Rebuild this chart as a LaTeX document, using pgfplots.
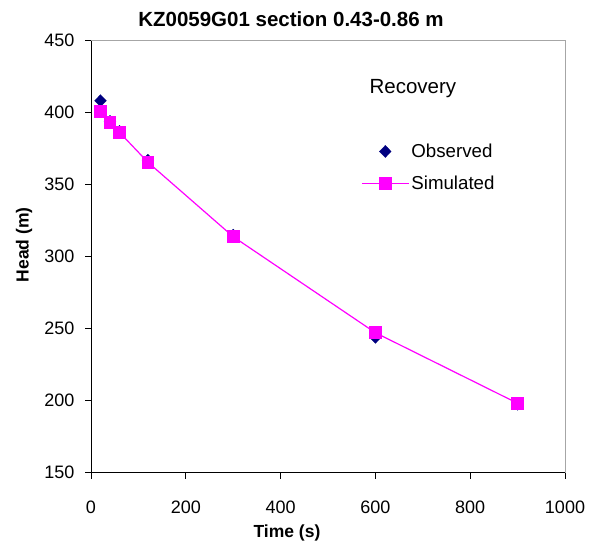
\documentclass[border=0pt]{standalone}
\usepackage{pgfplots}
\pgfplotsset{compat=1.18}
\usepackage{fontspec}
\setmainfont{Liberation Sans}
\definecolor{obs}{RGB}{0,0,128}
\definecolor{sim}{RGB}{255,0,255}
\begin{document}
\begin{tikzpicture}[x=1pt,y=1pt]
\useasboundingbox (-91,-73.3) rectangle (505,472.7);
\begin{axis}[
  at={(0,0)}, anchor=origin,
  scale only axis, width=474pt, height=432pt,
  xmin=0, xmax=1000, ymin=150, ymax=450,
  xtick={0,200,...,1000}, ytick={150,200,...,450},
  axis x line*=bottom, axis y line*=left,
  axis line style={black, line width=0.8pt},
  tick align=outside, major tick length=6pt,
  tick style={black, line width=0.8pt},
  x axis line style={-}, y axis line style={-},
  /pgf/number format/assume math mode=true,
  /pgf/number format/1000 sep={},
  ticklabel style={font=\fontsize{18}{21}\selectfont},
  xticklabel style={yshift=-19pt},
  yticklabel style={xshift=-7pt},
  clip=false,
  legend image code/.code={\draw[mark repeat=2,mark phase=2,#1] plot coordinates {(0pt,0pt) (23.5pt,0pt) (47pt,0pt)};},
  legend style={draw=none, fill=none, at={(0.5696,0.7065)}, anchor=west, inner sep=0pt,
    font=\fontsize{18.7}{22}\selectfont, row sep=13pt,
    /tikz/every even column/.append style={column sep=5pt}},
  legend cell align=left,
]
\draw[gray!70, line width=0.8pt] (rel axis cs:0,1) -- (rel axis cs:1,1) -- (rel axis cs:1,0);
\addplot[only marks, mark=diamond*, mark size=6pt, color=obs, mark options={xscale=1.3}] coordinates {
(20,408.3) (40,394) (60,387) (120,367) (300,315) (600,244) (900,197.5)};
\addlegendentry{Observed}
\addplot[sim, line width=1.2pt, mark=square*, mark size=5.7pt, mark options={solid}] coordinates {
(20,400.7) (40,393.1) (60,386.4) (120,365.6) (300,313.9) (600,247.2) (900,198.2)};
\addlegendentry{Simulated}
\node[font=\fontsize{20.5}{24}\selectfont] at (axis cs:679,417) {Recovery};
\end{axis}
\node[font=\bfseries\fontsize{20.5}{24}\selectfont] at (200,454) {KZ0059G01 section 0.43-0.86 m};
\node[font=\bfseries\fontsize{17.5}{21}\selectfont] at (196,-60) {Time (s)};
\node[font=\bfseries\fontsize{17.5}{21}\selectfont, rotate=90] at (-67,228) {Head (m)};
\end{tikzpicture}
\end{document}
